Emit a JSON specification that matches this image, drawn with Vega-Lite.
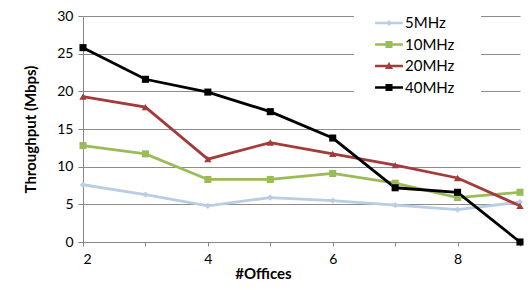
{
  "$schema": "https://vega.github.io/schema/vega-lite/v6.json",
  "width": 437,
  "height": 226,
  "padding": {"left": 83, "top": 16, "right": 10, "bottom": 48},
  "autosize": {"type": "none"},
  "background": "white",
  "config": {
    "view": {"stroke": null},
    "font": "Lato",
    "axis": {"labelFont": "Lato", "titleFont": "Lato", "labelColor": "#000000", "titleColor": "#000000", "labelFontSize": 14, "titleFontSize": 15, "titleFontWeight": "bold", "domainColor": "#868686", "tickColor": "#868686", "gridColor": "#8c8c8c", "gridWidth": 1}
  },
  "data": {
    "values": [
      {"x": 2, "s": "5MHz", "y": 7.6}, {"x": 3, "s": "5MHz", "y": 6.3}, {"x": 4, "s": "5MHz", "y": 4.8}, {"x": 5, "s": "5MHz", "y": 5.9}, {"x": 6, "s": "5MHz", "y": 5.5}, {"x": 7, "s": "5MHz", "y": 4.9}, {"x": 8, "s": "5MHz", "y": 4.3}, {"x": 9, "s": "5MHz", "y": 5.3},
      {"x": 2, "s": "10MHz", "y": 12.8}, {"x": 3, "s": "10MHz", "y": 11.7}, {"x": 4, "s": "10MHz", "y": 8.3}, {"x": 5, "s": "10MHz", "y": 8.3}, {"x": 6, "s": "10MHz", "y": 9.1}, {"x": 7, "s": "10MHz", "y": 7.8}, {"x": 8, "s": "10MHz", "y": 5.9}, {"x": 9, "s": "10MHz", "y": 6.6},
      {"x": 2, "s": "20MHz", "y": 19.3}, {"x": 3, "s": "20MHz", "y": 17.9}, {"x": 4, "s": "20MHz", "y": 11.0}, {"x": 5, "s": "20MHz", "y": 13.2}, {"x": 6, "s": "20MHz", "y": 11.7}, {"x": 7, "s": "20MHz", "y": 10.2}, {"x": 8, "s": "20MHz", "y": 8.5}, {"x": 9, "s": "20MHz", "y": 4.8},
      {"x": 2, "s": "40MHz", "y": 25.8}, {"x": 3, "s": "40MHz", "y": 21.6}, {"x": 4, "s": "40MHz", "y": 19.9}, {"x": 5, "s": "40MHz", "y": 17.3}, {"x": 6, "s": "40MHz", "y": 13.8}, {"x": 7, "s": "40MHz", "y": 7.2}, {"x": 8, "s": "40MHz", "y": 6.6}, {"x": 9, "s": "40MHz", "y": 0}
    ]
  },
  "encoding": {
    "x": {"field": "x", "type": "quantitative", "scale": {"domain": [2, 9], "nice": false, "zero": false},
      "axis": {"values": [2, 3, 4, 5, 6, 7, 8, 9], "labelExpr": "datum.value % 2 === 0 ? datum.label : ''", "grid": false, "tickSize": 4, "labelPadding": 6, "title": "#Offices", "titleX": 180, "titleY": 36, "titleAnchor": "middle", "titleBaseline": "alphabetic"}},
    "y": {"field": "y", "type": "quantitative", "scale": {"domain": [0, 30], "nice": false},
      "axis": {"values": [0, 5, 10, 15, 20, 25, 30], "grid": true, "tickSize": 5, "labelPadding": 5, "title": "Throughput (Mbps)", "titleX": -48, "titleBaseline": "alphabetic"}},
    "color": {"field": "s", "type": "nominal", "sort": ["5MHz", "10MHz", "20MHz", "40MHz"],
      "scale": {"domain": ["5MHz", "10MHz", "20MHz", "40MHz"], "range": ["#B9CDE5", "#9BBB59", "#A33B3B", "#000000"]},
      "legend": {"title": null, "orient": "none", "legendX": 289, "legendY": -10, "fillColor": "white", "strokeColor": "white", "padding": 8,
        "labelFont": "Lato", "labelFontSize": 15, "labelColor": "#000000", "rowPadding": 4.5, "labelOffset": 7, "symbolSize": 324, "symbolStrokeWidth": 0,
        "encode": {
          "legend": {"update": {"strokeWidth": {"value": 36}}},
          "symbols": {"update": {
          "fill": {"scale": "color", "field": "value"},
          "stroke": {"value": "transparent"},
          "shape": {"signal": "datum.value === '5MHz' ? 'M-1.55,-0.14H1.55V0.14H-1.55Z M0,-0.33L0.33,0L0,0.33L-0.33,0Z' : datum.value === '20MHz' ? 'M-1.55,-0.14H1.55V0.14H-1.55Z M0,-0.45L0.45,0.33H-0.45Z' : 'M-1.55,-0.14H1.55V0.14H-1.55Z M-0.39,-0.39H0.39V0.39H-0.39Z'"}
        }}}}
    }
  },
  "layer": [
    {"mark": {"type": "line", "strokeWidth": 2.8}},
    {"transform": [{"filter": "datum.s === '5MHz'"}], "mark": {"type": "point", "shape": "diamond", "filled": true, "opacity": 1, "size": 40}},
    {"transform": [{"filter": "datum.s === '20MHz'"}], "mark": {"type": "point", "shape": "triangle-up", "filled": true, "opacity": 1, "size": 55}},
    {"transform": [{"filter": "datum.s === '10MHz' || datum.s === '40MHz'"}], "mark": {"type": "point", "shape": "square", "filled": true, "opacity": 1, "size": 50}}
  ]
}
